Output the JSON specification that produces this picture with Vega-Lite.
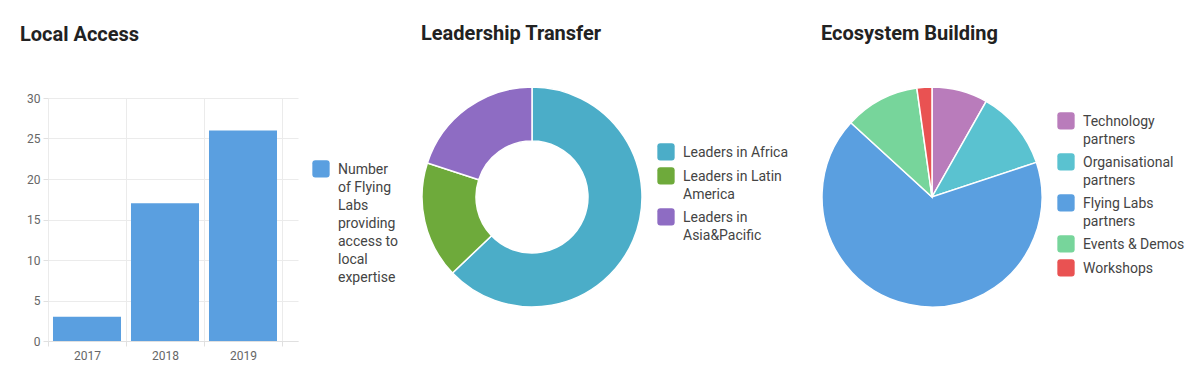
{
  "$schema": "https://vega.github.io/schema/vega-lite/v6.json",
  "background": "white",
  "padding": {"left": 20, "top": 24, "right": 0, "bottom": 0},
  "bounds": "flush",
  "spacing": 68,
  "resolve": {"scale": {"color": "independent", "theta": "independent"}, "legend": {"color": "independent"}},
  "config": {
    "font": "Roboto",
    "view": {"stroke": null},
    "style": {"guide-label": {"lineHeight": 18}},
    "title": {"font": "Roboto", "fontSize": 20, "fontWeight": "bold", "color": "#222222", "anchor": "start", "frame": "group", "baseline": "alphabetic", "offset": 40},
    "legend": {
      "symbolType": "M -0.65 -1.6 L 0.65 -1.6 Q 1 -1.6 1 -1.25 L 1 0.05 Q 1 0.4 0.65 0.4 L -0.65 0.4 Q -1 0.4 -1 0.05 L -1 -1.25 Q -1 -1.6 -0.65 -1.6 Z",
      "symbolSize": 300,
      "symbolStrokeWidth": 0,
      "symbolOpacity": 1,
      "labelFont": "Roboto",
      "labelFontSize": 14,
      "labelColor": "#444444",
      "labelOffset": 8,
      "labelBaseline": "alphabetic",
      "labelLimit": 300,
      "rowPadding": 6
    }
  },
  "hconcat": [
    {
      "title": {"text": "Local Access", "dx": -28, "offset": 47},
      "width": 250,
      "height": 243,
      "data": {"values": [
        {"year": "2017", "labs": 3, "series": "Number of Flying Labs providing access to local expertise"},
        {"year": "2018", "labs": 17, "series": "Number of Flying Labs providing access to local expertise"},
        {"year": "2019", "labs": 26, "series": "Number of Flying Labs providing access to local expertise"}
      ]},
      "mark": {"type": "bar", "width": {"band": 0.872}},
      "encoding": {
        "x": {"field": "year", "type": "nominal", "sort": null,
          "scale": {"paddingInner": 0, "paddingOuter": 0.1026, "align": 0},
          "axis": {"title": null, "labelAngle": 0, "tickBand": "extent", "grid": true, "gridColor": "#ebebeb", "domainColor": "#e0e0e0", "tickColor": "#e0e0e0", "tickSize": 5, "labelColor": "#666666", "labelFontSize": 12, "labelFont": "Roboto", "labelPadding": 4}},
        "y": {"field": "labs", "type": "quantitative",
          "scale": {"domain": [0, 30], "nice": false},
          "axis": {"title": null, "values": [0, 5, 10, 15, 20, 25, 30], "domain": false, "gridColor": "#ebebeb", "tickColor": "#e0e0e0", "tickSize": 5, "labelColor": "#666666", "labelFontSize": 12, "labelFont": "Roboto", "labelPadding": 3}},
        "color": {"field": "series", "type": "nominal",
          "scale": {"range": ["#5a9fe0"]},
          "legend": {"orient": "none", "legendX": 264, "legendY": 67, "title": null,
            "labelExpr": "['Number', 'of Flying', 'Labs', 'providing', 'access to', 'local', 'expertise']"}}
      }
    },
    {
      "title": {"text": "Leadership Transfer", "dx": 55},
      "width": 332,
      "height": 198,
      "data": {"values": [
        {"leader": "Leaders in Africa", "count": 22, "k": 1},
        {"leader": "Leaders in Latin America", "count": 6, "k": 2},
        {"leader": "Leaders in Asia&Pacific", "count": 7, "k": 3}
      ]},
      "mark": {"type": "arc", "outerRadius": 110, "innerRadius": 56, "stroke": "white", "strokeWidth": 1.5},
      "encoding": {
        "theta": {"field": "count", "type": "quantitative", "stack": true},
        "order": {"field": "k", "type": "quantitative"},
        "color": {"field": "leader", "type": "nominal",
          "scale": {"domain": ["Leaders in Africa", "Leaders in Latin America", "Leaders in Asia&Pacific"], "range": ["#4badc8", "#6eaa3b", "#8e6cc3"]},
          "legend": {"orient": "none", "legendX": 291, "legendY": 50, "title": null,
            "labelExpr": "datum.label == 'Leaders in Latin America' ? ['Leaders in Latin', 'America'] : datum.label == 'Leaders in Asia&Pacific' ? ['Leaders in', 'Asia&Pacific'] : datum.label"}}
      }
    },
    {
      "title": {"text": "Ecosystem Building", "dx": 55},
      "width": 332,
      "height": 198,
      "data": {"values": [
        {"partner": "Technology partners", "share": 8.2, "k": 1},
        {"partner": "Organisational partners", "share": 11.7, "k": 2},
        {"partner": "Flying Labs partners", "share": 66.9, "k": 3},
        {"partner": "Events & Demos", "share": 11.0, "k": 4},
        {"partner": "Workshops", "share": 2.2, "k": 5}
      ]},
      "mark": {"type": "arc", "outerRadius": 110, "stroke": "white", "strokeWidth": 1.5},
      "encoding": {
        "theta": {"field": "share", "type": "quantitative", "stack": true},
        "order": {"field": "k", "type": "quantitative"},
        "color": {"field": "partner", "type": "nominal",
          "scale": {"domain": ["Technology partners", "Organisational partners", "Flying Labs partners", "Events & Demos", "Workshops"], "range": ["#b97cbb", "#5ac2d0", "#5a9fe0", "#77d59b", "#e95252"]},
          "legend": {"orient": "none", "legendX": 291, "legendY": 19, "title": null,
            "labelExpr": "datum.label == 'Events & Demos' || datum.label == 'Workshops' ? datum.label : [replace(datum.label, ' partners', ''), 'partners']"}}
      }
    }
  ]
}
